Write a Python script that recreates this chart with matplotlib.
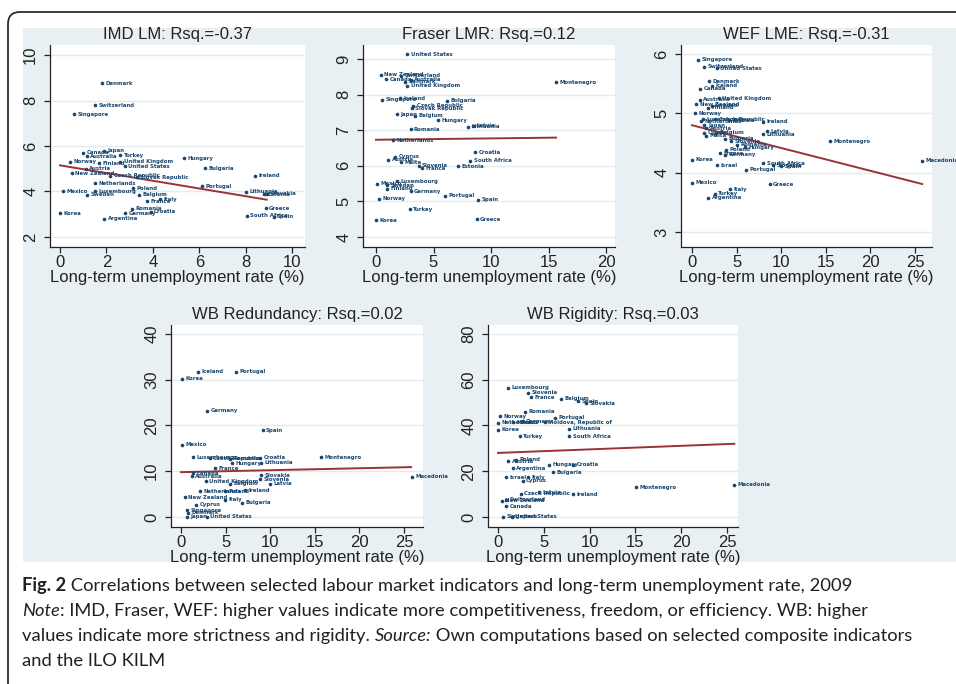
import numpy as np
import matplotlib.pyplot as plt
from matplotlib.patches import FancyBboxPatch, Rectangle

W, H = 956, 684

# ---- data: long-term unemployment rate (%) vs indicator ----
imd_names = ["Denmark", "Switzerland", "Singapore", "Canada", "Japan", "Australia", "Turkey",
             "Norway", "Finland", "United Kingdom", "Austria", "United States", "Hungary",
             "Bulgaria", "New Zealand", "Czech Republic", "Slovak Republic", "Ireland",
             "Netherlands", "Portugal", "Poland", "Mexico", "Luxembourg", "Sweden", "Belgium",
             "Lithuania", "Slovakia", "France", "Italy", "Greece", "Romania", "Germany",
             "Croatia", "Korea", "Argentina", "South Africa", "Spain", "Estonia"]
imd_x = [1.8, 1.5, 0.6, 1.0, 1.9, 1.15, 2.6, 0.43, 1.7, 2.6, 1.1, 2.8, 5.35, 6.26, 0.5, 2.16,
         3.3, 8.4, 1.5, 6.1, 3.15, 0.15, 1.5, 1.15, 3.4, 8.0, 8.9, 3.75, 4.3, 8.85, 3.1, 2.8,
         3.9, 0.0, 1.9, 8.05, 9.2, 8.8]
imd_y = [8.76, 7.8, 7.4, 5.7, 5.8, 5.55, 5.6, 5.3, 5.25, 5.3, 5.0, 5.1, 5.47, 5.03, 4.8, 4.7,
         4.63, 4.7, 4.37, 4.22, 4.15, 4.0, 4.0, 3.86, 3.86, 3.98, 3.9, 3.57, 3.65, 3.27, 3.25,
         3.05, 3.1, 3.05, 2.8, 2.94, 2.9, 3.88]
imd_fit_x = [0.0, 8.9]
imd_fit_y = [5.15, 3.64]

fraser_names = ["United States", "New Zealand", "Canada", "Switzerland", "Australia", "Denmark",
                "United Kingdom", "Montenegro", "Singapore", "Iceland", "Bulgaria",
                "Czech Republic", "Slovak Republic", "Japan", "Belgium", "Hungary", "Lithuania",
                "Latvia", "Romania", "Netherlands", "Croatia", "Cyprus", "Austria", "Malta",
                "South Africa", "Slovenia", "France", "Estonia", "Mexico", "Sweden",
                "Luxembourg", "Finland", "Germany", "Portugal", "Norway", "Spain", "Turkey",
                "Greece", "Korea"]
fraser_x = [2.7, 0.4, 0.9, 2.2, 3.0, 2.5, 2.7, 15.65, 0.5, 2.1, 6.2, 3.25, 3.1, 1.8, 3.4, 5.4,
            8.0, 8.4, 3.0, 1.45, 8.6, 1.65, 1.07, 2.2, 8.2, 3.7, 4.0, 7.15, 0.05, 0.93, 1.8,
            0.93, 3.0, 6.0, 0.3, 8.9, 2.95, 8.75, 0.0]
fraser_y = [9.13, 8.55, 8.43, 8.52, 8.41, 8.36, 8.24, 8.34, 7.85, 7.9, 7.83, 7.68, 7.62, 7.44,
            7.4, 7.28, 7.1, 7.12, 7.03, 6.72, 6.38, 6.26, 6.17, 6.1, 6.14, 6.0, 5.93, 5.98, 5.5,
            5.45, 5.56, 5.35, 5.28, 5.16, 5.07, 5.05, 4.78, 4.5, 4.47]
fraser_fit_x = [0.0, 15.65]
fraser_fit_y = [6.73, 6.79]

wef_names = ["Singapore", "Switzerland", "United States", "Denmark", "Iceland", "Canada",
             "Australia", "United Kingdom", "New Zealand", "Sweden", "Finland", "Norway",
             "Czech Republic", "Luxembourg", "Netherlands", "Ireland", "Estonia", "Japan",
             "Austria", "Latvia", "Lithuania", "Cyprus", "Belgium", "Malta", "Montenegro",
             "Bulgaria", "Slovenia", "Romania", "Hungary", "Poland", "France", "Germany",
             "Korea", "Israel", "South Africa", "Slovakia", "Spain", "Portugal", "Macedonia",
             "Mexico", "Greece", "Italy", "Turkey", "Argentina"]
wef_x = [0.67, 1.4, 2.8, 1.9, 2.2, 0.94, 0.86, 3.0, 0.5, 2.2, 1.8, 0.37, 2.6, 1.24, 1.05, 8.0,
         4.2, 1.4, 1.6, 8.4, 8.0, 1.4, 2.7, 1.6, 15.5, 3.67, 4.4, 5.0, 5.9, 3.86, 3.1, 3.7, 0.0,
         2.85, 8.0, 9.1, 10.0, 6.1, 25.8, 0.0, 8.7, 4.23, 2.55, 1.8]
wef_y = [5.9, 5.78, 5.76, 5.54, 5.46, 5.41, 5.23, 5.25, 5.15, 5.13, 5.09, 5.0, 4.9, 4.9, 4.87,
         4.86, 4.88, 4.8, 4.75, 4.7, 4.65, 4.67, 4.67, 4.62, 4.53, 4.57, 4.53, 4.47, 4.43, 4.39,
         4.33, 4.3, 4.22, 4.13, 4.16, 4.13, 4.11, 4.05, 4.2, 3.83, 3.81, 3.72, 3.65, 3.58]
wef_fit_x = [0.0, 25.8]
wef_fit_y = [4.8, 3.81]

red_names = ["Iceland", "Portugal", "Korea", "Germany", "Spain", "Mexico", "Croatia",
             "Montenegro", "Luxembourg", "Czech Republic", "Romania", "Hungary", "Lithuania",
             "France", "Canada", "Australia", "Slovakia", "Slovenia", "Macedonia",
             "United Kingdom", "Belgium", "Latvia", "Netherlands", "Ireland", "Poland",
             "New Zealand", "Italy", "Cyprus", "Bulgaria", "Singapore", "Denmark", "Japan",
             "United States"]
red_x = [1.95, 6.2, 0.07, 2.95, 9.15, 0.07, 8.9, 15.7, 1.4, 3.25, 5.5, 5.7, 9.0, 3.8, 1.4, 1.2,
         9.0, 8.85, 25.9, 2.8, 5.5, 10.0, 2.1, 7.2, 4.9, 0.45, 4.9, 1.7, 6.8, 0.64, 0.8, 0.64,
         2.9]
red_y = [31.8, 31.8, 30.2, 23.2, 18.95, 15.8, 13.0, 13.05, 13.1, 12.8, 12.7, 11.8, 11.9, 10.7,
         9.6, 8.9, 9.1, 8.2, 8.75, 7.8, 7.3, 7.3, 5.6, 5.8, 5.6, 4.3, 3.8, 2.7, 3.1, 1.5, 0.9,
         0.0, 0.0]
red_fit_x = [0.0, 25.8]
red_fit_y = [9.8, 10.9]

rig_names = ["Luxembourg", "Slovenia", "France", "Belgium", "Spain", "Slovakia", "Romania",
             "Norway", "Portugal", "Netherlands", "Mexico", "Germany", "Moldova, Republic of",
             "Korea", "Lithuania", "Turkey", "South Africa", "Poland", "Austria", "Hungary",
             "Croatia", "Argentina", "Bulgaria", "Israel", "Italy", "Cyprus", "Montenegro",
             "Macedonia", "Czech Republic", "Latvia", "Ireland", "New Zealand", "Switzerland",
             "Canada", "Singapore", "United States"]
rig_x = [1.1, 3.3, 3.6, 6.9, 8.7, 9.6, 2.9, 0.2, 6.2, 0.0, 1.6, 2.7, 5.1, 0.0, 7.8, 2.36, 7.8,
         2.0, 1.1, 5.6, 8.2, 1.6, 6.0, 0.9, 3.3, 2.7, 15.1, 25.8, 2.5, 4.5, 8.2, 0.4, 0.9, 0.9,
         0.55, 1.5]
rig_y = [56.4, 54.2, 52.4, 51.6, 50.6, 49.6, 45.9, 44.0, 43.3, 41.1, 41.4, 41.8, 41.4, 38.2,
         38.5, 35.2, 35.2, 25.0, 24.3, 22.9, 22.9, 21.4, 19.5, 17.3, 17.3, 15.8, 13.1, 14.1,
         10.2, 10.9, 10.0, 7.1, 7.6, 4.7, 0.0, 0.0]
rig_fit_x = [0.0, 25.8]
rig_fit_y = [28.0, 32.0]

titles = ["IMD LM: Rsq.=-0.37", "Fraser LMR: Rsq.=0.12", "WEF LME: Rsq.=-0.31",
          "WB Redundancy: Rsq.=0.02", "WB Rigidity: Rsq.=0.03"]
xlabel = "Long-term unemployment rate (%)"

navy = "#1a476f"
maroon = "#9a3238"

fig = plt.figure(figsize=(W / 100, H / 100), dpi=100)

# background: rounded frame + light blue graph region, in pixel coordinates
bg = fig.add_axes([0, 0, 1, 1])
bg.set_xlim(0, W)
bg.set_ylim(H, 0)
bg.axis("off")
bg.add_patch(FancyBboxPatch((8, 12), 1000, 720, boxstyle="round,pad=0,rounding_size=12",
                            fc="white", ec="#2b2b2b", lw=1.3))
bg.add_patch(Rectangle((23, 28), 960, 534, fc="#e9f0f3", ec="none"))


def px_axes(l, t, r, b):
    return fig.add_axes([l / W, 1 - b / H, (r - l) / W, (b - t) / H])


panels = [
    (imd_names, imd_x, imd_y, imd_fit_x, imd_fit_y),
    (fraser_names, fraser_x, fraser_y, fraser_fit_x, fraser_fit_y),
    (wef_names, wef_x, wef_y, wef_fit_x, wef_fit_y),
    (red_names, red_x, red_y, red_fit_x, red_fit_y),
    (rig_names, rig_x, rig_y, rig_fit_x, rig_fit_y),
]
boxes = [(50, 45, 305, 247), (363, 45, 615, 247), (681, 45, 932, 247),
         (171, 325, 423, 527), (488, 325, 738, 527)]
xlims = [(-0.43, 10.55), (-1.13, 20.78), (-1.23, 26.9), (-1.12, 27.13), (-1.09, 26.2)]
ylims = [(1.56, 10.44), (3.72, 9.39), (2.75, 6.15), (-2.19, 41.97), (-4.37, 83.9)]
xticks = [np.arange(0, 11, 2), np.arange(0, 21, 5), np.arange(0, 26, 5),
          np.arange(0, 26, 5), np.arange(0, 26, 5)]
yticks = [np.arange(2, 11, 2), np.arange(4, 10, 1), np.arange(3, 7, 1),
          np.arange(0, 41, 10), np.arange(0, 81, 20)]

for i, (names, xs, ys, fx, fy) in enumerate(panels):
    ax = px_axes(*boxes[i])
    ax.set_facecolor("white")
    for s in ["top", "right"]:
        ax.spines[s].set_visible(False)
    for s in ["left", "bottom"]:
        ax.spines[s].set_color("#222222")
        ax.spines[s].set_linewidth(0.9)
    ax.set_xlim(*xlims[i])
    ax.set_ylim(*ylims[i])
    ax.set_xticks(xticks[i])
    ax.set_yticks(yticks[i])
    ax.yaxis.grid(True, color="#e2ecef", lw=1.0)
    ax.set_axisbelow(True)
    ax.tick_params(axis="x", direction="out", length=4.5, width=0.9, labelsize=12, pad=1,
                   colors="#222222")
    ax.tick_params(axis="y", direction="out", length=4.5, width=0.9, labelsize=12, pad=4,
                   labelrotation=90, colors="#222222")
    for lab in ax.get_yticklabels():
        lab.set_va("center")
    ax.plot(fx, fy, color=maroon, lw=1.4, zorder=2)
    ax.plot(xs, ys, "o", ms=1.6, color=navy, zorder=3)
    for n, xi, yi in zip(names, xs, ys):
        ax.annotate(n, (xi, yi), xytext=(2.5, 0), textcoords="offset points",
                    fontsize=3.9, color=navy, va="center", ha="left", fontweight="bold")
    ax.set_title(titles[i], fontsize=12, pad=4, color="#222222", family="Liberation Sans")
    ax.set_xlabel(xlabel, fontsize=12, labelpad=0, color="#222222", family="Liberation Sans")
    for lab in ax.get_xticklabels() + ax.get_yticklabels():
        lab.set_family("Liberation Sans")

# caption with mixed bold / italic runs
caption = [
    [("Fig. 2", "normal", "bold"),
     (" Correlations between selected labour market indicators and long-term unemployment rate, 2009",
      "normal", "normal")],
    [("Note", "italic", "normal"),
     (": IMD, Fraser, WEF: higher values indicate more competitiveness, freedom, or efficiency. WB: higher",
      "normal", "normal")],
    [("values indicate more strictness and rigidity. ", "normal", "normal"),
     ("Source:", "italic", "normal"),
     (" Own computations based on selected composite indicators", "normal", "normal")],
    [("and the ILO KILM", "normal", "normal")],
]
line_y = [586, 611, 636, 661]
renderer = fig.canvas.get_renderer()
for runs, yy in zip(caption, line_y):
    xx = 22
    for txt, style, weight in runs:
        t = bg.text(xx, yy, txt, fontsize=13.2, family="Lato", style=style, weight=weight,
                    color="#231f20", va="center", ha="left")
        xx += t.get_window_extent(renderer).width

fig.savefig("out.png", dpi=100)
